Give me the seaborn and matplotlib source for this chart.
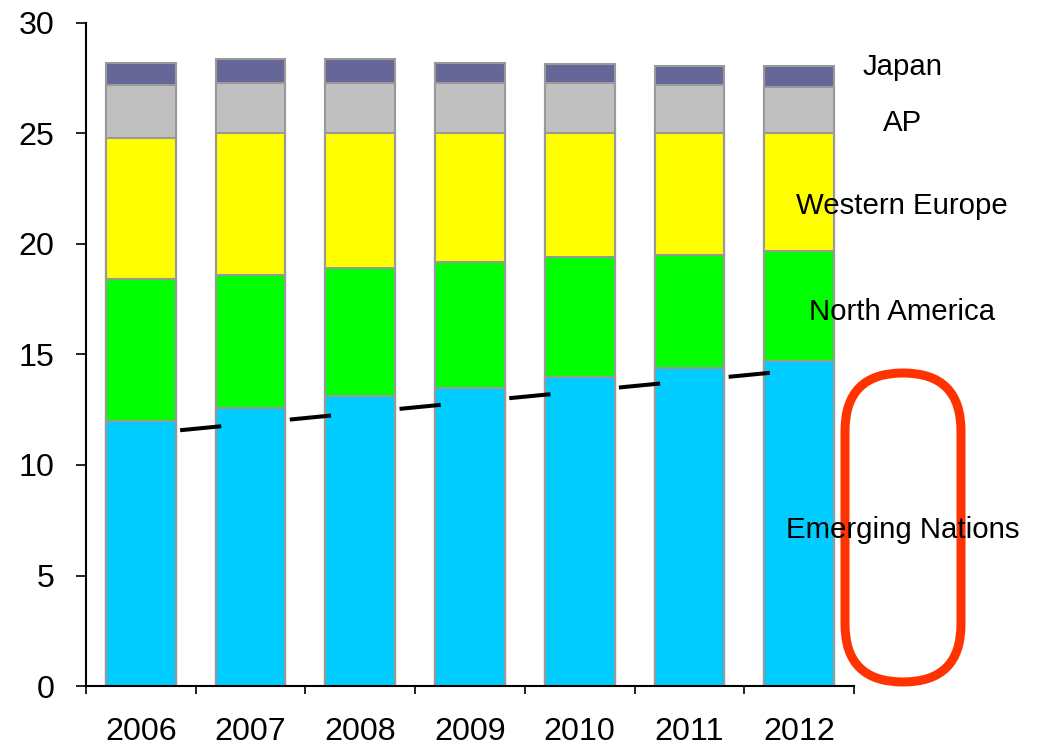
import matplotlib
matplotlib.use("Agg")
import matplotlib.pyplot as plt
from matplotlib.patches import FancyBboxPatch
from matplotlib.transforms import IdentityTransform
import numpy as np
import pandas as pd
import seaborn as sns

# Regional totals per year (stacked from the bottom up)
years = ["2006", "2007", "2008", "2009", "2010", "2011", "2012"]
emerging = [12.0, 12.6, 13.1, 13.5, 14.0, 14.4, 14.7]
north_america = [6.4, 6.0, 5.8, 5.7, 5.4, 5.1, 5.0]
western_europe = [6.4, 6.4, 6.1, 5.8, 5.6, 5.5, 5.3]
asia_pacific = [2.4, 2.3, 2.3, 2.3, 2.3, 2.2, 2.1]
japan = [1.0, 1.05, 1.05, 0.9, 0.85, 0.85, 0.95]

series_names = ["Emerging Nations", "North America", "Western Europe", "AP", "Japan"]
series_colors = ["#00CCFF", "#00FF00", "#FFFF00", "#C0C0C0", "#666699"]

# Growth trend of the emerging segment (start and end levels)
trend_years = ["2006", "2012"]
trend_values = [11.4, 14.3]

# Label anchor heights (baseline) for the series names at the right
label_heights = [6.7, 16.56, 21.36, 25.11, 27.65]

BAR_WIDTH = 0.635

sns.set_theme(style="white")
plt.rcParams["font.family"] = ["Liberation Sans", "DejaVu Sans"]

fig = plt.figure(figsize=(10.37, 7.46), dpi=100)
ax = fig.add_axes([86 / 1037, 60 / 746, 768 / 1037, 663 / 746])

df = pd.DataFrame({
    "year": years,
    series_names[0]: emerging,
    series_names[1]: north_america,
    series_names[2]: western_europe,
    series_names[3]: asia_pacific,
    series_names[4]: japan,
})
cum = df[series_names].cumsum(axis=1)

# Stacked bars: draw cumulative totals from the top segment down
for name, color in zip(reversed(series_names), reversed(series_colors)):
    sns.barplot(x=df["year"], y=cum[name], color=color, width=BAR_WIDTH,
                edgecolor="#999999", linewidth=1.5, saturation=1,
                errorbar=None, ax=ax, order=years)
for p in ax.patches:
    p.set_zorder(2)

# Trend line, drawn only across the gaps between neighbouring bars
x0, x1 = [years.index(y) for y in trend_years]
slope = (trend_values[1] - trend_values[0]) / (x1 - x0)
for i in range(x0, x1):
    xa = i + BAR_WIDTH / 2 + 0.04
    xb = i + 1 - BAR_WIDTH / 2 + 0.05
    ya = trend_values[0] + slope * (xa - x0)
    yb = trend_values[0] + slope * (xb - x0)
    ax.plot([xa, xb], [ya, yb], color="black", lw=2.9,
            solid_capstyle="butt", zorder=3)

ax.set_xlim(-0.5, 6.5)
ax.set_ylim(0, 30)
ax.set_xlabel("")
ax.set_ylabel("")

for side in ["top", "right"]:
    ax.spines[side].set_visible(False)
for side in ["left", "bottom"]:
    ax.spines[side].set_color("black")
    ax.spines[side].set_linewidth(1.5)

ax.set_yticks([0, 5, 10, 15, 20, 25, 30])
ax.tick_params(axis="y", left=True, length=7.2, width=1.2, color="black",
               labelsize=23.2, pad=15.5, labelcolor="black")

# Category separators as ticks, year labels as tickless minor labels
ax.set_xticks(np.arange(-0.5, 7, 1.0))
ax.set_xticklabels([])
ax.set_xticks(np.arange(len(years)), minor=True)
ax.set_xticklabels(years, minor=True)
ax.tick_params(axis="x", which="major", bottom=True, length=6, width=1.2,
               color="black")
ax.tick_params(axis="x", which="minor", bottom=False, length=0,
               labelsize=23.2, pad=22, labelcolor="black")

# Highlight ring around the emerging segment label (behind the text)
ring = FancyBboxPatch((845, 64), 116, 309,
                      boxstyle="round,pad=0,rounding_size=58",
                      transform=IdentityTransform(), fill=False,
                      edgecolor="#FF3300", linewidth=6.5, zorder=4,
                      clip_on=False)
ax.add_artist(ring)

# Series names to the right of the last bar
for name, yv in zip(series_names, label_heights):
    ax.text(6.94, yv, name, ha="center", va="baseline", fontsize=21.2,
            color="black", clip_on=False, zorder=5)

fig.savefig("out.png", dpi=100)
